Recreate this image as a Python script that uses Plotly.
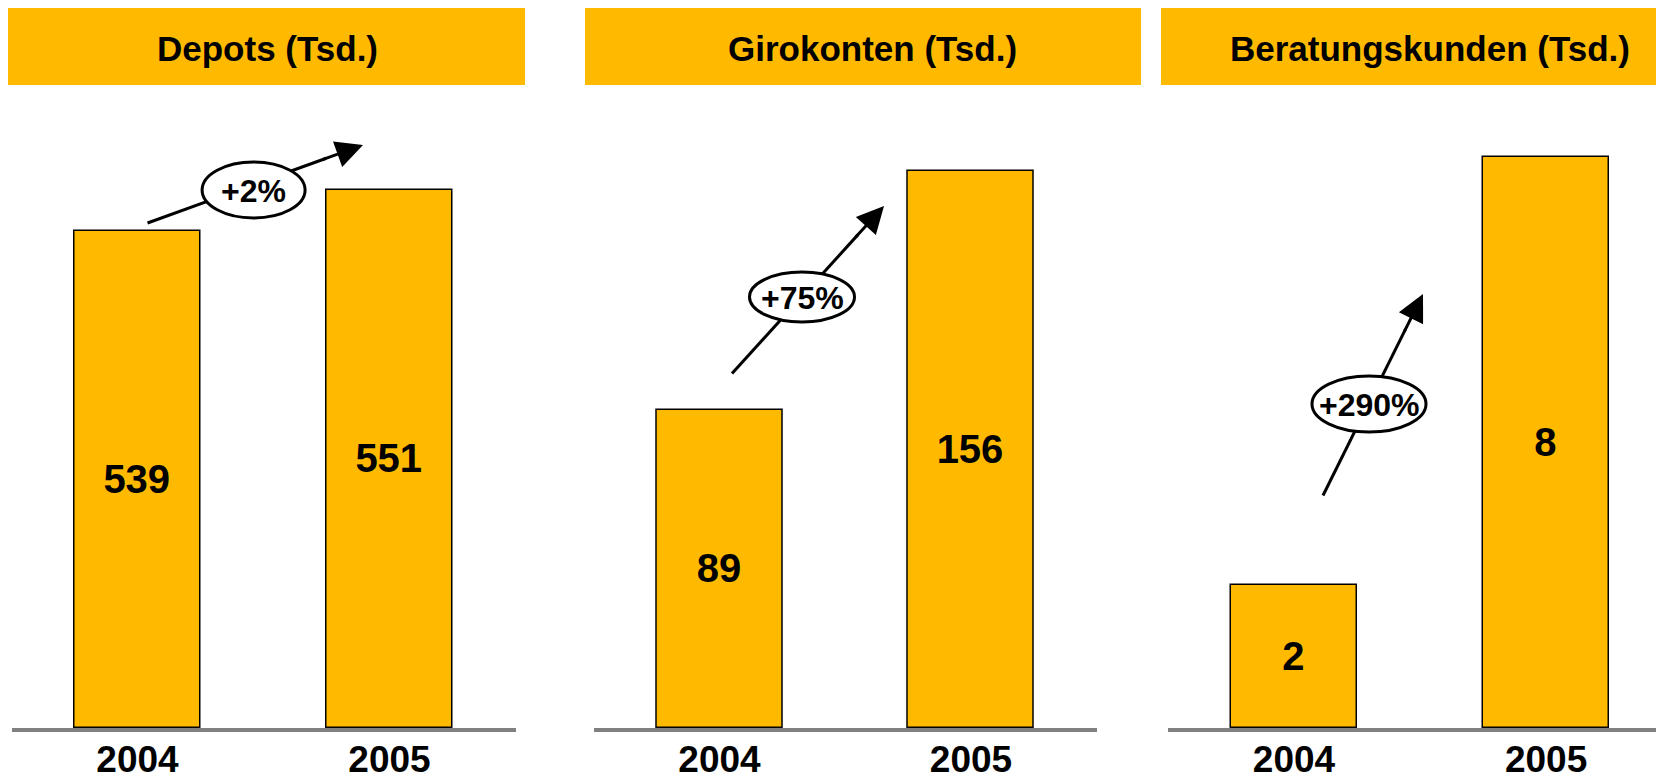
import plotly.graph_objects as go
from plotly.subplots import make_subplots

# ---- data ----
years = ["2004", "2005"]
panel_titles = ["Depots (Tsd.)", "Girokonten (Tsd.)", "Beratungskunden (Tsd.)"]
depots = [539, 551]
girokonten = [89, 156]
beratungskunden = [2, 8]
growth_labels = ["+2%", "+75%", "+290%"]

# ---- style / layout constants ----
OFF = 8                     # page body margin in the browser
W, H = 1664 - OFF, 776 - OFF
BASE_Y = 728                # baseline in window pixels
PLOT_H = BASE_Y - OFF
BOTTOM = H - PLOT_H
BAR_COLOR = "#FFBA00"
FONT = "Arial, Liberation Sans, sans-serif"

# depots axis is truncated (schematic chart)
DEPOT_BASE = 393.5
DEPOT_TOP = 577.3
GIRO_TOP = 175.9
BERAT_TOP = 8.8


def px(x):
    return (x - OFF) / W


def py(y):
    return (BASE_Y - y) / PLOT_H


Y_TOP = py(100)

fig = make_subplots(rows=1, cols=3)

series = [depots, girokonten, beratungskunden]
bases = [DEPOT_BASE, 0, 0]
for i, (vals, b) in enumerate(zip(series, bases)):
    fig.add_trace(
        go.Bar(
            x=years,
            y=[v - b for v in vals],
            base=b,
            width=0.5,
            marker=dict(color=BAR_COLOR, line=dict(color="black", width=1.5)),
            text=[str(v) for v in vals],
            textposition="inside",
            insidetextanchor="middle",
            textangle=0,
            textfont=dict(family=FONT, size=40, color="black", weight="bold"),
            showlegend=False,
            cliponaxis=False,
        ),
        row=1,
        col=i + 1,
    )

x_domains = [(px(11.5), px(515.5)), (px(593.75), px(1096.75)), (px(1168), 1.0)]
x_ranges = [[-0.5, 1.5], [-0.5, 1.5], [-0.5, 1.468]]
y_ranges = [[DEPOT_BASE, DEPOT_TOP], [0, GIRO_TOP], [0, BERAT_TOP]]

for i in range(3):
    xa = "xaxis" if i == 0 else f"xaxis{i + 1}"
    ya = "yaxis" if i == 0 else f"yaxis{i + 1}"
    fig.layout[xa].update(
        domain=list(x_domains[i]),
        range=x_ranges[i],
        showline=True,
        linecolor="#808080",
        linewidth=4,
        showgrid=False,
        zeroline=False,
        ticks="",
        ticklabelstandoff=-4,
        tickfont=dict(family=FONT, size=37, color="black", weight="bold"),
        automargin=False,
        fixedrange=True,
    )
    fig.layout[ya].update(
        domain=[0, Y_TOP],
        range=y_ranges[i],
        visible=False,
        automargin=False,
        fixedrange=True,
    )

shapes = []
annotations = []

# title boxes
title_boxes = [(7, 525), (585, 1141), (1161, 1664)]
title_centers = [267, 872, 1430]
for (x0, x1), tc, t in zip(title_boxes, title_centers, panel_titles):
    shapes.append(dict(type="rect", xref="paper", yref="paper",
                       x0=px(x0), x1=px(x1), y0=py(85), y1=py(6),
                       fillcolor=BAR_COLOR, line=dict(width=0), layer="above"))
    annotations.append(dict(xref="paper", yref="paper", x=px(tc), y=py(48),
                            text=t, showarrow=False, xanchor="center", yanchor="middle",
                            font=dict(family=FONT, size=35, color="black", weight="bold")))

# growth arrows with ellipse labels
arrows = [
    dict(start=(147.5, 223), tip=(363, 145), c=(253.6, 190), rx=51.5, ry=28),
    dict(start=(732, 373.5), tip=(884, 206), c=(802, 297), rx=52.5, ry=25),
    dict(start=(1323, 495.5), tip=(1423, 294), c=(1369, 404), rx=57, ry=28),
]
for a, lab in zip(arrows, growth_labels):
    (sx, sy), (tx, ty) = a["start"], a["tip"]
    dx, dy = tx - sx, ty - sy
    L = (dx ** 2 + dy ** 2) ** 0.5
    ux, uy = dx / L, dy / L
    back = 44
    mx, my = tx - ux * back, ty - uy * back
    shapes.append(dict(type="line", xref="paper", yref="paper",
                       x0=px(sx), y0=py(sy), x1=px(mx + ux * 5), y1=py(my + uy * 5),
                       line=dict(color="black", width=3), layer="above"))
    cx, cy = a["c"]
    shapes.append(dict(type="circle", xref="paper", yref="paper",
                       x0=px(cx - a["rx"]), x1=px(cx + a["rx"]),
                       y0=py(cy + a["ry"]), y1=py(cy - a["ry"]),
                       fillcolor="white", line=dict(color="black", width=3), layer="above"))
    annotations.append(dict(xref="paper", yref="paper", x=px(tx), y=py(ty),
                            ax=mx - tx, ay=my - ty, axref="pixel", ayref="pixel",
                            showarrow=True, arrowhead=2, arrowsize=1.8, arrowwidth=3,
                            arrowcolor="black", text=""))
    annotations.append(dict(xref="paper", yref="paper", x=px(cx), y=py(cy + 1),
                            text=lab, showarrow=False, xanchor="center", yanchor="middle",
                            font=dict(family=FONT, size=32, color="black", weight="bold")))

fig.update_layout(
    width=W,
    height=H,
    margin=dict(l=0, r=0, t=0, b=BOTTOM),
    paper_bgcolor="white",
    plot_bgcolor="white",
    shapes=shapes,
    annotations=annotations,
    bargap=0,
)

fig.write_html("out.html")
